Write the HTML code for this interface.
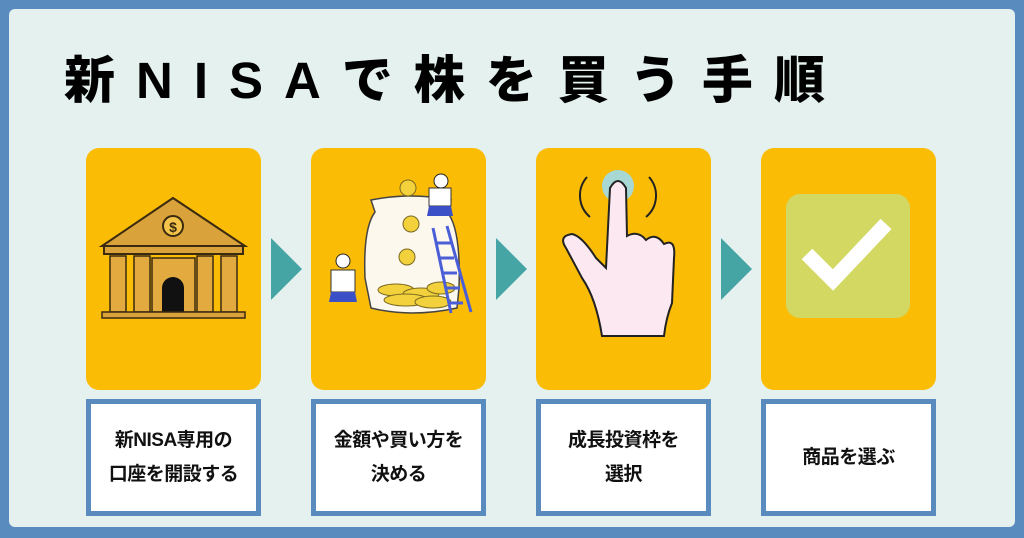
<!DOCTYPE html>
<html><head><meta charset="utf-8"><style>
*{margin:0;padding:0;box-sizing:border-box}
body{width:1024px;height:538px;background:#5a8bbf;position:relative;overflow:hidden;font-family:"Liberation Sans","Noto Sans CJK JP",sans-serif}
.in{position:absolute;left:9px;top:9px;width:1006px;height:518px;background:#e4f1ef;border-radius:6px}
.t{position:absolute;left:64px;top:45px;font-size:51px;font-weight:900;letter-spacing:21px;color:#000;white-space:nowrap;line-height:72px}
.c{position:absolute;top:148px;width:175px;height:242px;background:#fbbc05;border-radius:13px}
.l{position:absolute;top:399px;width:175px;height:117px;background:#fff;border:5px solid #5a8bbf;display:flex;align-items:center;justify-content:center;text-align:center;font-size:19px;font-weight:bold;line-height:34px;color:#111;letter-spacing:-0.5px}
.a{position:absolute;top:238px;width:0;height:0;border-top:31px solid transparent;border-bottom:31px solid transparent;border-left:31px solid #45a5a5}
svg{position:absolute}
</style></head><body>
<div class="in"></div>
<div class="t">新NISAで株を買う手順</div>

<div class="c" style="left:86px"></div>
<div class="c" style="left:311px"></div>
<div class="c" style="left:536px"></div>
<div class="c" style="left:761px"></div>
<div class="a" style="left:271px"></div>
<div class="a" style="left:496px"></div>
<div class="a" style="left:721px"></div>

<svg style="left:86px;top:148px" width="175" height="242" viewBox="0 0 175 242">
<polygon points="16,98 87,50 159,98" fill="#d9a23a" stroke="#3a2a10" stroke-width="2"/>
<circle cx="87" cy="78" r="10" fill="#f3c34a" stroke="#3a2a10" stroke-width="2"/>
<text x="87" y="84" font-size="14" font-weight="bold" text-anchor="middle" fill="#3a2a10">$</text>
<rect x="18" y="98" width="139" height="8" fill="#d9a23a" stroke="#3a2a10" stroke-width="2"/>
<g fill="#e3aa40" stroke="#3a2a10" stroke-width="1.5">
<rect x="24" y="108" width="16" height="56"/><rect x="48" y="108" width="16" height="56"/>
<rect x="111" y="108" width="16" height="56"/><rect x="135" y="108" width="16" height="56"/>
<rect x="66" y="110" width="43" height="54"/>
</g>
<path d="M76 164 V140 a11 11 0 0 1 22 0 V164 Z" fill="#111"/>
<rect x="16" y="164" width="143" height="6" fill="#d9a23a" stroke="#3a2a10" stroke-width="1.5"/>
</svg>

<svg style="left:311px;top:148px" width="175" height="242" viewBox="0 0 175 242">
<path d="M60 52 Q100 44 140 52 L136 64 Q150 80 148 140 L146 160 Q100 170 60 160 L54 130 Q52 80 64 64 Z" fill="#fdf8ee" stroke="#444" stroke-width="1.5"/>
<g fill="#f2d13c" stroke="#7a6a20" stroke-width="1">
<ellipse cx="85" cy="142" rx="18" ry="6"/><ellipse cx="110" cy="146" rx="18" ry="6"/><ellipse cx="130" cy="140" rx="14" ry="6"/>
<ellipse cx="95" cy="152" rx="22" ry="6"/><ellipse cx="122" cy="154" rx="18" ry="6"/>
<circle cx="100" cy="76" r="8"/><circle cx="96" cy="109" r="8"/><circle cx="97" cy="40" r="8"/>
</g>
<g stroke="#4a5ed8" stroke-width="3" fill="none"><line x1="122" y1="80" x2="140" y2="165"/><line x1="136" y1="78" x2="160" y2="164"/>
<path d="M126 95h14M129 110h14M132 125h14M135 140h14M138 155h14"/></g>
<rect x="20" y="122" width="24" height="22" fill="#fff" stroke="#333"/><path d="M20 144h24l2 10H18z" fill="#3b4fc6"/>
<circle cx="32" cy="113" r="7" fill="#fff" stroke="#222"/>
<rect x="118" y="40" width="22" height="18" fill="#fff" stroke="#333"/><path d="M118 58h22l2 10h-26z" fill="#3b4fc6"/>
<circle cx="130" cy="33" r="7" fill="#fff" stroke="#222"/>
</svg>

<svg style="left:536px;top:148px" width="175" height="242" viewBox="0 0 175 242">
<path d="M51 29 a28 28 0 0 0 3 40 M113 29 a28 28 0 0 1 -3 40" stroke="#222" stroke-width="2" fill="none"/>
<circle cx="82" cy="38" r="16" fill="#a8d8d4"/>
<path d="M74 40 Q82 26 90 40 L91 88 Q102 82 110 92 Q120 84 128 96 Q140 90 138 110 L136 155 Q130 170 128 188 L66 188 Q60 150 46 130 L30 100 Q22 88 36 86 Q46 88 60 110 L70 120 Z" fill="#fce8f1" stroke="#222" stroke-width="2"/>
</svg>

<svg style="left:761px;top:148px" width="175" height="242" viewBox="0 0 175 242">
<rect x="25" y="46" width="124" height="124" rx="14" fill="#d3d862"/>
<path d="M46 106 L72 132 L125 76" stroke="#fff" stroke-width="15" fill="none"/>
</svg>

<div class="l" style="left:86px">新NISA専用の<br>口座を開設する</div>
<div class="l" style="left:311px">金額や買い方を<br>決める</div>
<div class="l" style="left:536px">成長投資枠を<br>選択</div>
<div class="l" style="left:761px">商品を選ぶ</div>
</body></html>
